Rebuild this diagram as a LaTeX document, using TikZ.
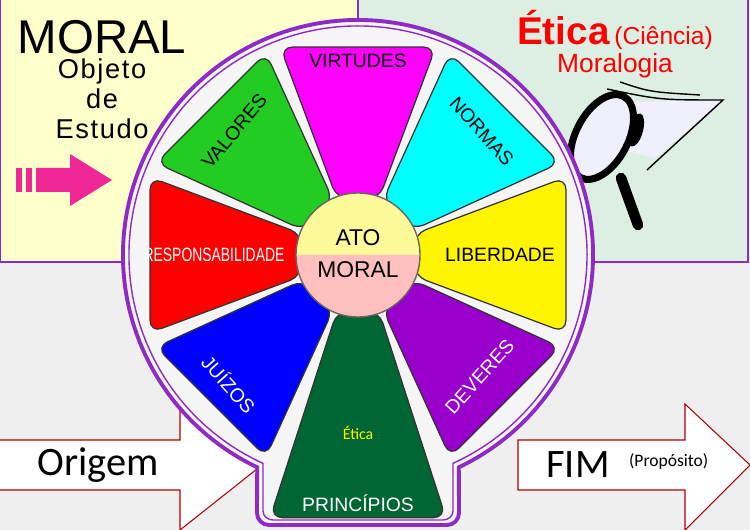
\documentclass[tikz,border=0pt]{standalone}
\usepackage{fontspec}
\setmainfont{Liberation Sans}
\newfontfamily\carlito{Carlito}
\usetikzlibrary{shapes, arrows, positioning}
\definecolor{panelyellow}{HTML}{FFFFCC}
\definecolor{panelgreen}{HTML}{DCEFE2}
\definecolor{backgray}{HTML}{EFEFEF}
\definecolor{rimpurple}{HTML}{8E2BC4}
\definecolor{lens}{HTML}{F0F0FC}
\definecolor{segmagenta}{HTML}{FF00FF}
\definecolor{segcyan}{HTML}{00FFFF}
\definecolor{segyellow}{HTML}{FFF500}
\definecolor{segviolet}{HTML}{9900CC}
\definecolor{segdkgreen}{HTML}{006633}
\definecolor{segblue}{HTML}{0000FF}
\definecolor{segred}{HTML}{FF0000}
\definecolor{seggreen}{HTML}{22CC22}
\tikzstyle{seg} = [draw=black!80, line width=0.7pt, rounded corners=7pt]
\tikzstyle{seglabel} = [text centered, font=\fontsize{11}{13}\selectfont]
\tikzstyle{bigarrow} = [draw=red!70!black, fill=white, line width=0.6pt]
% one trapezoid segment: angle, outer radius, outer half angle, colour
\newcommand{\segment}[4]{\fill[#4, seg] (#1-20.5:60) -- (#1-#3:#2) -- (#1+#3:#2) -- (#1+20.5:60) -- cycle;}

\begin{document}
\begin{tikzpicture}[x=0.02cm, y=0.02cm]
\useasboundingbox (0,0) rectangle (750,530);
\fill[backgray] (0,0) rectangle (750,530);
\fill[panelyellow, draw=rimpurple, line width=1pt] (0,268) rectangle (358,531);
\fill[panelgreen, draw=rimpurple, line width=1pt] (358,268) rectangle (748,531);

% title panels
\node (moral) at (102,493) {\fontsize{27}{30}\selectfont MORAL};
\node (objeto) [below=-4pt of moral, align=center, font={\fontsize{15.5}{17}\selectfont\addfontfeatures{LetterSpace=6}}] {Objeto\\de\\Estudo};
\node (etica) at (615,500) {\textcolor{red}{\fontsize{22}{24}\selectfont\bfseries Ética} \textcolor{red}{\fontsize{14}{16}\selectfont(Ciência)}};
\node (moralogia) [below=-5pt of etica] {\textcolor{red}{\fontsize{15}{17}\selectfont Moralogia}};

% pink arrow with bars
\fill[magenta!80!pink] (16,338) rectangle (22,362);
\fill[magenta!80!pink] (26,338) rectangle (32,362);
\fill[magenta!80!pink] (36,338) -- (70,338) -- (70,324) -- (112,350) -- (70,376) -- (70,362) -- (36,362) -- cycle;

% magnifying glass
\fill[lens] (630,428) -- (723,430) -- (655,372) -- (630,378) -- cycle;
\draw[line width=0.8pt] (607,441) .. controls (660,430) .. (723,430) -- (647,360);
\draw[line width=0.8pt] (620,448) .. controls (650,438) .. (700,435);
\draw[line width=6pt, line cap=round] (621,352) -- (638,305);
\draw[line width=4pt, fill=lens, rotate around={-28:(602,393)}] (602,393) ellipse (26 and 46);
\fill[black, rotate around={-15:(636,400)}] (636,400) ellipse (7 and 17);

% bottom arrows
\draw[bigarrow] (0,40) -- (180,40) -- (180,0) -- (262,65) -- (180,126) -- (180,90) -- (0,90);
\draw[bigarrow] (518,40) -- (685,40) -- (685,0) -- (750,65) -- (685,126) -- (685,90) -- (518,90) -- cycle;
\node (origem) at (98,65) {\carlito\fontsize{23}{25}\selectfont Origem};
\node (fim) at (578,65) {\carlito\fontsize{23}{25}\selectfont FIM};
\node (proposito) [right=4pt of fim, yshift=2pt] {\carlito\fontsize{10}{12}\selectfont (Propósito)};

% wheel
\begin{scope}[shift={(358,275)}]
\draw[rimpurple, fill=backgray!60!white, line width=2.2pt] (-64.6:235) arc (-64.6:244.6:235) -- (-101,-258) to[out=-90,in=180] (-89,-270) -- (89,-270) to[out=0,in=-90] (101,-258) -- cycle;
\draw[rimpurple, line width=0.8pt] (-65.5:229) arc (-65.5:245.5:229) -- (-95,-256) to[out=-90,in=180] (-85,-265) -- (85,-265) to[out=0,in=-90] (95,-256) -- cycle;

\segment{90}{222}{20.5}{segmagenta}
\segment{45}{222}{20.5}{segcyan}
\segment{0}{222}{20.5}{segyellow}
\segment{-45}{222}{20.5}{segviolet}
\segment{-90}{277}{18.5}{segdkgreen}
\segment{-135}{222}{20.5}{segblue}
\segment{180}{222}{20.5}{segred}
\segment{135}{222}{20.5}{seggreen}

\node (virtudes) [seglabel] at (90:194) {VIRTUDES};
\node (normas) [seglabel, rotate=-48] at (45:175) {NORMAS};
\node (liberdade) [seglabel] at (0:142) {LIBERDADE};
\node (deveres) [seglabel, white, rotate=48] at (-45:172) {DEVERES};
\node (principios) [seglabel, white] at (-90:248) {PRINCÍPIOS};
\node (eticaseg) [yellow, font=\carlito\fontsize{9}{11}\selectfont] at (-90:178) {Ética};
\node (juizos) [seglabel, white, rotate=-48] at (-135:182) {JUÍZOS};
\node (resp) [seglabel, white] at (180:144) {\scalebox{0.72}[1]{RESPONSABILIDADE}};
\node (valores) [seglabel, rotate=50] at (135:175) {VALORES};

\fill[yellow!40] (-62,0) arc (180:0:62) -- cycle;
\fill[pink] (-62,0) arc (-180:0:62) -- cycle;
\draw[black!60, line width=0.8pt] (0,0) circle (62);
\node (ato) at (0,17) {\fontsize{13}{15}\selectfont ATO};
\node (moralc) at (0,-15) {\fontsize{13}{15}\selectfont MORAL};
\end{scope}
\end{tikzpicture}
\end{document}
